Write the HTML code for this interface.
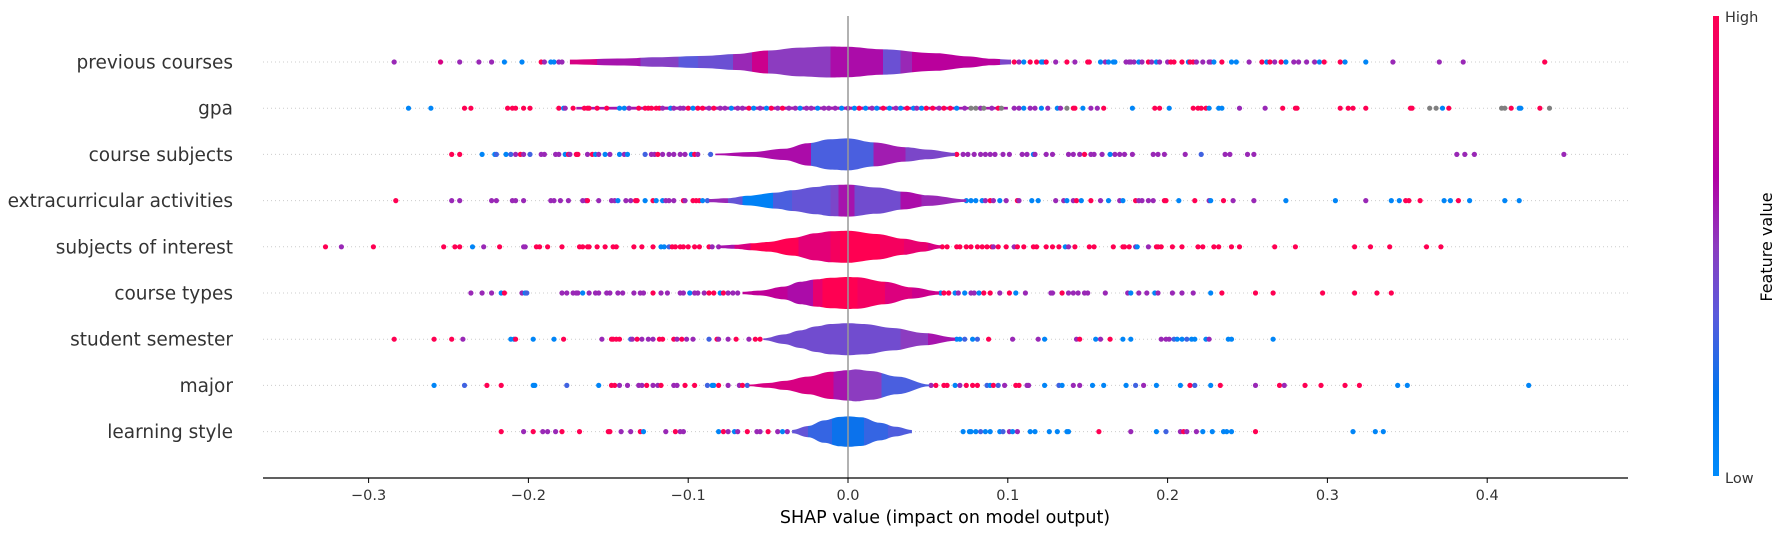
<!DOCTYPE html>
<html><head><meta charset="utf-8"><style>
html,body{margin:0;padding:0;background:#fff;}
svg{display:block;font-family:"DejaVu Sans","Liberation Sans",sans-serif;}
</style></head><body>
<svg id="chart" width="1785" height="536" viewBox="0 0 1785 536" xmlns="http://www.w3.org/2000/svg">
<defs id="defs"><linearGradient id="cbar" x1="0" y1="1" x2="0" y2="0">
<stop offset="0" stop-color="#008bfb"/><stop offset="0.18" stop-color="#0075ee"/><stop offset="0.35" stop-color="#5a5adc"/><stop offset="0.5" stop-color="#8c3cc0"/><stop offset="0.65" stop-color="#b300a3"/><stop offset="0.82" stop-color="#dc007e"/><stop offset="1" stop-color="#ff0052"/></linearGradient></defs>
<g id="guides"></g>
<g id="under"></g>
<g id="dots"></g>
<g id="violins"></g>
<line x1="848" y1="16" x2="848" y2="478" stroke="#999" stroke-width="1.5"/>
<line x1="263" y1="478" x2="1628" y2="478" stroke="#000" stroke-width="1.2"/>
<g id="xticks"></g>
<g id="ylabels"></g>
<text x="945" y="523" font-size="17.5" text-anchor="middle" fill="#000">SHAP value (impact on model output)</text>
<rect x="1713" y="16" width="6" height="460" fill="url(#cbar)"/>
<text x="1725" y="22" font-size="14.5" fill="#333">High</text>
<text x="1725" y="483" font-size="14.5" fill="#333">Low</text>
<text transform="translate(1772,247) rotate(-90)" font-size="16" text-anchor="middle" fill="#000">Feature value</text>
</svg>
<script>
const features=["previous courses","gpa","course subjects","extracurricular activities","subjects of interest","course types","student semester","major","learning style"];
const tickValues=[-0.3,-0.2,-0.1,0.0,0.1,0.2,0.3,0.4];
const tickLabels=["\u22120.3","\u22120.2","\u22120.1","0.0","0.1","0.2","0.3","0.4"];
const B=0.05,Q=0.3,P=0.55,M=0.8,R=1,G=-1;
const dots0=[[-.284,P],[-.255,M],[-.243,P],[-.231,P],[-.223,P],[-.215,B],[-.204,B],[-.192,R],[-.190,P],[-.186,B],[-.184,B],[-.181,P],[-.179,P],[.104,R],[.107,P],[.110,B],[.114,R],[.118,R],[.121,B],[.122,B],[.124,R],[.130,P],[.137,R],[.142,P],[.150,R],[.151,R],[.158,B],[.161,P],[.163,B],[.166,B],[.167,B],[.174,P],[.176,P],[.177,P],[.179,P],[.182,B],[.184,P],[.188,R],[.190,P],[.193,B],[.195,P],[.200,P],[.202,R],[.204,R],[.209,R],[.213,B],[.214,R],[.216,R],[.218,P],[.222,P],[.226,P],[.227,P],[.229,B],[.234,R],[.240,B],[.243,B],[.251,P],[.259,R],[.262,B],[.264,R],[.267,P],[.271,R],[.274,B],[.279,P],[.282,P],[.287,P],[.292,P],[.295,B],[.298,R],[.308,R],[.311,B],[.324,B],[.341,P],[.370,P],[.385,P],[.436,R]];
const dots1=[[-.275,B],[-.261,B],[-.240,R],[-.236,R],[-.213,R],[-.210,R],[-.208,R],[-.203,R],[-.199,R],[-.181,R],[-.178,B],[-.177,P],[-.172,R],[-.165,R],[-.163,R],[-.162,R],[-.157,R],[-.151,R],[-.143,B],[-.140,B],[-.137,P],[-.131,R],[-.127,R],[-.125,R],[-.123,R],[-.120,R],[-.118,R],[-.116,P],[-.111,B],[-.109,P],[-.105,P],[-.103,P],[-.100,R],[-.097,B],[-.094,R],[-.091,R],[-.087,P],[-.084,R],[-.080,P],[-.077,P],[-.073,B],[-.069,P],[-.066,P],[-.062,R],[-.059,B],[-.055,P],[-.051,B],[-.048,R],[-.044,P],[-.041,R],[-.037,P],[-.033,P],[-.030,B],[-.026,P],[-.023,P],[-.019,B],[-.015,P],[-.012,P],[-.008,P],[-.004,B],[.000,P],[.004,B],[.007,R],[.011,B],[.015,P],[.018,B],[.022,R],[.026,B],[.030,P],[.033,B],[.037,R],[.041,B],[.043,P],[.046,B],[.049,R],[.053,R],[.057,P],[.060,R],[.064,R],[.068,B],[.073,P],[.077,G],[.080,G],[.083,P],[.085,G],[.090,P],[.094,R],[.096,G],[.104,P],[.107,P],[.110,B],[.114,P],[.117,P],[.121,B],[.125,P],[.131,B],[.133,P],[.137,G],[.141,R],[.142,R],[.147,B],[.152,P],[.156,P],[.160,R],[.178,B],[.192,R],[.195,R],[.201,B],[.216,R],[.219,R],[.221,R],[.224,R],[.226,B],[.232,B],[.234,B],[.245,P],[.261,P],[.272,R],[.280,R],[.281,R],[.308,R],[.313,R],[.316,R],[.324,R],[.352,R],[.353,R],[.364,G],[.368,G],[.372,B],[.376,R],[.409,G],[.411,G],[.415,R],[.420,B],[.421,B],[.433,R],[.439,G]];
const dots2=[[-.248,R],[-.243,R],[-.229,B],[-.221,B],[-.220,Q],[-.214,B],[-.211,Q],[-.208,P],[-.205,R],[-.203,P],[-.199,Q],[-.192,P],[-.190,P],[-.183,P],[-.181,P],[-.177,B],[-.175,R],[-.174,P],[-.170,R],[-.169,R],[-.163,P],[-.160,R],[-.158,B],[-.156,P],[-.152,B],[-.149,P],[-.143,B],[-.140,P],[-.138,B],[-.127,Q],[-.123,P],[-.121,P],[-.119,R],[-.116,P],[-.112,P],[-.109,P],[-.105,P],[-.102,P],[-.098,B],[-.096,R],[-.094,P],[-.086,Q],[.068,R],[.072,P],[.075,P],[.079,P],[.083,P],[.086,P],[.089,P],[.092,P],[.097,P],[.101,P],[.109,P],[.112,P],[.116,B],[.117,P],[.124,P],[.128,P],[.138,P],[.141,P],[.145,P],[.148,R],[.152,P],[.154,P],[.159,P],[.164,B],[.167,P],[.170,P],[.173,P],[.178,P],[.191,P],[.194,P],[.198,P],[.211,P],[.221,Q],[.236,P],[.239,P],[.250,P],[.254,P],[.381,P],[.386,P],[.392,P],[.448,P]];
const dots3=[[-.283,R],[-.248,P],[-.243,P],[-.223,P],[-.220,P],[-.210,P],[-.208,P],[-.203,P],[-.186,P],[-.184,P],[-.180,P],[-.175,P],[-.166,P],[-.164,P],[-.163,R],[-.156,P],[-.148,P],[-.146,P],[-.144,B],[-.139,P],[-.136,P],[-.133,R],[-.132,R],[-.127,B],[-.122,R],[-.120,B],[-.116,B],[-.114,P],[-.112,P],[-.109,P],[-.103,R],[-.102,P],[-.097,R],[-.095,R],[-.093,R],[-.091,B],[-.088,Q],[.074,B],[.077,B],[.080,B],[.084,B],[.086,P],[.089,R],[.091,P],[.095,B],[.099,P],[.106,R],[.107,P],[.115,B],[.119,B],[.130,P],[.135,P],[.137,B],[.141,P],[.143,R],[.146,B],[.152,R],[.158,P],[.163,B],[.170,P],[.172,B],[.180,R],[.182,P],[.184,P],[.188,P],[.191,P],[.198,R],[.199,R],[.207,B],[.217,R],[.226,P],[.227,B],[.235,R],[.241,P],[.254,P],[.274,B],[.305,B],[.324,P],[.340,B],[.345,B],[.349,R],[.351,R],[.358,R],[.373,B],[.377,B],[.382,R],[.389,B],[.411,B],[.420,B]];
const dots4=[[-.327,R],[-.317,P],[-.297,R],[-.253,R],[-.246,R],[-.243,R],[-.235,B],[-.228,P],[-.218,R],[-.203,P],[-.202,P],[-.195,R],[-.193,R],[-.188,R],[-.179,R],[-.168,R],[-.166,R],[-.163,R],[-.162,R],[-.157,R],[-.152,R],[-.147,R],[-.145,R],[-.134,R],[-.129,R],[-.122,R],[-.117,B],[-.115,B],[-.112,Q],[-.110,R],[-.108,R],[-.105,R],[-.103,R],[-.100,R],[-.096,R],[-.093,R],[-.087,R],[-.085,P],[-.081,P],[.059,R],[.062,R],[.068,R],[.070,R],[.074,R],[.077,R],[.081,R],[.084,R],[.087,R],[.090,R],[.091,P],[.094,R],[.099,R],[.104,P],[.106,R],[.110,R],[.116,R],[.118,R],[.124,R],[.128,R],[.132,R],[.136,B],[.138,P],[.142,R],[.151,R],[.154,R],[.166,R],[.172,R],[.173,R],[.176,R],[.180,P],[.181,B],[.188,P],[.193,R],[.194,R],[.196,R],[.203,R],[.209,R],[.219,R],[.222,R],[.229,R],[.232,R],[.240,R],[.245,R],[.267,R],[.280,R],[.317,R],[.327,R],[.339,R],[.362,R],[.371,R]];
const dots5=[[-.236,P],[-.229,P],[-.223,P],[-.217,B],[-.215,R],[-.204,P],[-.202,B],[-.201,Q],[-.179,P],[-.176,P],[-.172,P],[-.170,P],[-.169,P],[-.166,B],[-.162,P],[-.158,P],[-.156,P],[-.151,P],[-.149,P],[-.144,P],[-.141,P],[-.134,P],[-.130,P],[-.128,P],[-.122,R],[-.117,P],[-.113,P],[-.105,P],[-.103,P],[-.099,B],[-.096,P],[-.094,P],[-.090,P],[-.087,R],[-.084,R],[-.080,B],[-.078,R],[-.075,P],[-.072,P],[-.069,P],[.058,B],[.060,R],[.063,R],[.067,B],[.069,P],[.073,B],[.077,P],[.079,P],[.082,B],[.085,R],[.089,R],[.095,P],[.101,R],[.105,B],[.111,P],[.127,P],[.128,P],[.134,R],[.138,P],[.141,P],[.144,P],[.148,P],[.150,P],[.161,P],[.175,P],[.177,B],[.182,P],[.187,P],[.192,B],[.194,P],[.203,P],[.209,P],[.216,P],[.227,B],[.234,R],[.255,R],[.266,R],[.297,R],[.317,R],[.331,R],[.340,R]];
const dots6=[[-.284,R],[-.259,R],[-.248,R],[-.241,P],[-.211,B],[-.209,B],[-.208,R],[-.197,B],[-.184,B],[-.178,R],[-.154,P],[-.148,R],[-.147,R],[-.145,R],[-.143,R],[-.136,Q],[-.135,P],[-.132,R],[-.129,P],[-.125,P],[-.122,P],[-.118,R],[-.116,R],[-.109,R],[-.107,P],[-.104,R],[-.101,P],[-.097,P],[-.087,Q],[-.082,R],[-.081,P],[-.075,P],[-.070,R],[-.062,P],[-.058,R],[-.055,R],[.068,B],[.070,B],[.073,Q],[.078,B],[.081,Q],[.088,R],[.103,P],[.119,P],[.123,B],[.143,P],[.145,R],[.155,B],[.158,P],[.164,R],[.172,B],[.177,B],[.196,P],[.199,P],[.201,P],[.204,Q],[.206,B],[.209,B],[.212,Q],[.215,B],[.217,B],[.224,B],[.226,P],[.238,B],[.240,B],[.266,B]];
const dots7=[[-.259,B],[-.240,Q],[-.226,R],[-.217,R],[-.197,B],[-.196,B],[-.176,Q],[-.156,B],[-.148,R],[-.146,R],[-.143,P],[-.138,P],[-.131,P],[-.129,P],[-.126,R],[-.122,P],[-.119,P],[-.117,R],[-.109,P],[-.107,P],[-.102,R],[-.096,R],[-.088,Q],[-.085,B],[-.084,B],[-.081,R],[-.075,P],[-.068,P],[-.066,R],[-.063,Q],[.052,P],[.055,R],[.060,R],[.062,R],[.067,B],[.070,P],[.074,R],[.078,R],[.081,R],[.087,Q],[.089,B],[.091,R],[.094,Q],[.098,P],[.105,R],[.107,R],[.112,P],[.113,P],[.123,B],[.132,Q],[.134,B],[.141,P],[.145,P],[.153,B],[.160,B],[.174,B],[.180,Q],[.185,P],[.193,B],[.208,B],[.214,R],[.217,Q],[.227,B],[.233,R],[.255,P],[.270,R],[.273,P],[.286,R],[.296,R],[.311,R],[.320,R],[.344,B],[.350,B],[.426,B]];
const dots8=[[-.217,R],[-.203,P],[-.197,R],[-.191,P],[-.188,P],[-.183,P],[-.179,R],[-.168,R],[-.150,R],[-.149,R],[-.142,P],[-.136,P],[-.130,R],[-.128,B],[-.114,P],[-.108,R],[-.105,P],[-.103,P],[-.081,B],[-.078,R],[-.075,P],[-.071,B],[-.069,P],[-.063,R],[-.057,P],[-.055,P],[-.050,R],[-.044,P],[-.041,B],[-.038,P],[.072,B],[.076,B],[.077,B],[.080,B],[.083,Q],[.086,B],[.089,B],[.095,B],[.097,Q],[.101,P],[.103,B],[.106,P],[.114,B],[.117,B],[.126,B],[.131,B],[.137,B],[.138,B],[.157,R],[.177,P],[.193,B],[.199,Q],[.208,P],[.210,R],[.212,P],[.218,P],[.222,B],[.228,B],[.235,B],[.237,B],[.240,B],[.255,R],[.316,B],[.330,B],[.335,B]];
const dotSets=[dots0,dots1,dots2,dots3,dots4,dots5,dots6,dots7,dots8];
const dens0=[[-.174,.15],[-.14,.22],[-.12,.3],[-.09,.38],[-.07,.5],[-.05,.72],[-.03,.9],[-.011,.97],[0,.95],[.02,.8],[.055,.55],[.075,.35],[.09,.2],[.102,.15]];
const col0=[[-.174,.8],[-.157,.6],[-.13,.48],[-.106,.35],[-.094,.4],[-.072,.55],[-.06,.75],[-.05,.5],[-.011,.62],[.022,.4],[.033,.55],[.04,.68],[.095,.45]];
const dens1=[[-.17,.08],[-.1,.1],[0,.1],[.1,.08]];
const col1=[[-.17,.6]];
const dens2=[[-.083,.05],[-.06,.15],[-.04,.35],[-.025,.7],[-.011,.95],[0,1],[.016,.75],[.036,.45],[.05,.3],[.067,.1]];
const col2=[[-.083,.62],[-.023,.32],[.016,.58],[.036,.45]];
const dens3=[[-.087,.1],[-.075,.15],[-.063,.3],[-.045,.5],[-.035,.65],[-.02,.85],[-.011,.97],[0,1],[.018,.82],[.035,.55],[.05,.33],[.074,.08]];
const col3=[[-.087,.55],[-.075,.38],[-.066,.08],[-.047,.32],[-.035,.38],[-.011,.45],[-.006,.6],[.004,.42],[.033,.62],[.046,.55]];
const dens4=[[-.081,.08],[-.07,.13],[-.06,.22],[-.05,.3],[-.035,.55],[-.02,.85],[-.011,.97],[0,1],[.018,.8],[.035,.5],[.047,.3],[.058,.1]];
const col4=[[-.081,.6],[-.071,.8],[-.061,1],[-.031,.85],[-.011,.95],[-.005,1],[.02,.95],[.035,.88],[.05,.8]];
const dens5=[[-.066,.08],[-.055,.15],[-.04,.4],[-.03,.7],[-.02,.85],[-.011,.95],[0,1],[.006,.98],[.023,.7],[.04,.35],[.057,.1]];
const col5=[[-.066,.7],[-.038,.62],[-.022,.88],[-.016,1],[.006,.94],[.023,.82],[.04,.75]];
const dens6=[[-.053,.05],[-.04,.3],[-.03,.55],[-.02,.8],[-.011,.95],[0,1],[.01,.95],[.028,.7],[.048,.38],[.067,.1]];
const col6=[[-.053,.42],[.033,.5],[.05,.6]];
const dens7=[[-.062,.05],[-.05,.15],[-.04,.28],[-.025,.55],[-.011,.85],[0,.95],[.005,1],[.014,.9],[.031,.55],[.051,.05]];
const col7=[[-.062,.8],[-.009,.6],[0,.5],[.021,.32]];
const dens8=[[-.035,.1],[-.025,.35],[-.015,.7],[-.005,.92],[0,.95],[.008,.9],[.02,.55],[.03,.3],[.04,.1]];
const col8=[[-.035,.38],[-.025,.28],[-.01,.2],[.01,.28],[.025,.33]];
const densSets=[dens0,dens1,dens2,dens3,dens4,dens5,dens6,dens7,dens8];
const colSets=[col0,col1,col2,col3,col4,col5,col6,col7,col8];

const NS="http://www.w3.org/2000/svg";
const X0=848,XS=1598,ROW0=62,ROWS=46.2,MAXW=16;
function xs(v){return X0+v*XS;}
function ys(i){return ROW0+i*ROWS;}
const stops=[[0,[0,139,251]],[0.18,[0,117,238]],[0.35,[90,90,220]],[0.5,[140,60,192]],[0.65,[179,0,163]],[0.82,[220,0,126]],[1,[255,0,82]]];
function cmap(t){if(t<0)return "#808080";for(let i=1;i<stops.length;i++){if(t<=stops[i][0]){const a=stops[i-1],b=stops[i],f=(t-a[0])/(b[0]-a[0]);const c=a[1].map((v,k)=>Math.round(v+(b[1][k]-v)*f));return "rgb("+c.join(",")+")";}}return "rgb(255,0,82)";}
function mk(tag,attrs,parent){const e=document.createElementNS(NS,tag);for(const k in attrs)e.setAttribute(k,attrs[k]);parent.appendChild(e);return e;}
const gG=document.getElementById('guides'),gU=document.getElementById('under'),gD=document.getElementById('dots'),gV=document.getElementById('violins'),gT=document.getElementById('xticks'),gY=document.getElementById('ylabels'),defs=document.getElementById('defs');
features.forEach((f,i)=>{
 const y=ys(i);
 const gl=mk('line',{x1:263,x2:1628,y1:y,y2:y,stroke:'#ccc','stroke-width':1,'stroke-dasharray':'1,3'},gG);
 
 
 const t=mk('text',{x:233,y:y+6.5,'font-size':18.5,'text-anchor':'end',fill:'#333'},gY);
 t.textContent=f;
 
 
 dotSets[i].forEach(d=>{
  const c=mk('circle',{cx:xs(d[0]).toFixed(1),cy:y,r:2.6,fill:cmap(d[1])},gD);
  
  
 });
 const dn=densSets[i];const v0=dn[0][0],v1=dn[dn.length-1][0];
 const gid='vg'+i;
 const lg=mk('linearGradient',{id:gid,gradientUnits:'userSpaceOnUse',x1:xs(v0),x2:xs(v1),y1:0,y2:0},defs);
 const cs=colSets[i];
 cs.forEach((c,k)=>{
  const o1=(c[0]-v0)/(v1-v0);const o2=k+1<cs.length?(cs[k+1][0]-v0)/(v1-v0):1;
  mk('stop',{offset:Math.max(0,o1),'stop-color':cmap(c[1])},lg);
  mk('stop',{offset:Math.min(1,o2),'stop-color':cmap(c[1])},lg);
 });
 const pts=[];
 for(let k=0;k<dn.length-1;k++){const a=dn[k],b=dn[k+1];for(let s=0;s<8;s++){const f2=s/8,g=(1-Math.cos(Math.PI*f2))/2;pts.push([a[0]+(b[0]-a[0])*f2,a[1]+(b[1]-a[1])*g]);}}
 pts.push(dn[dn.length-1]);
 let dpath='M'+pts.map(p=>xs(p[0]).toFixed(1)+','+(y-p[1]*MAXW).toFixed(1)).join('L');
 dpath+='L'+pts.slice().reverse().map(p=>xs(p[0]).toFixed(1)+','+(y+p[1]*MAXW).toFixed(1)).join('L')+'Z';
 const vp=mk('path',{d:dpath,fill:'url(#'+gid+')'},i===1?gU:gV);
 
 
});
tickValues.forEach((v,k)=>{
 const x=xs(v);
 const tl=mk('line',{x1:x,x2:x,y1:478,y2:483,stroke:'#000','stroke-width':1},gT);
 
 
 const tt=mk('text',{x:x,y:500,'font-size':14.5,'text-anchor':'middle',fill:'#333'},gT);
 tt.textContent=tickLabels[k];
 
 
});
</script>
</body></html>
